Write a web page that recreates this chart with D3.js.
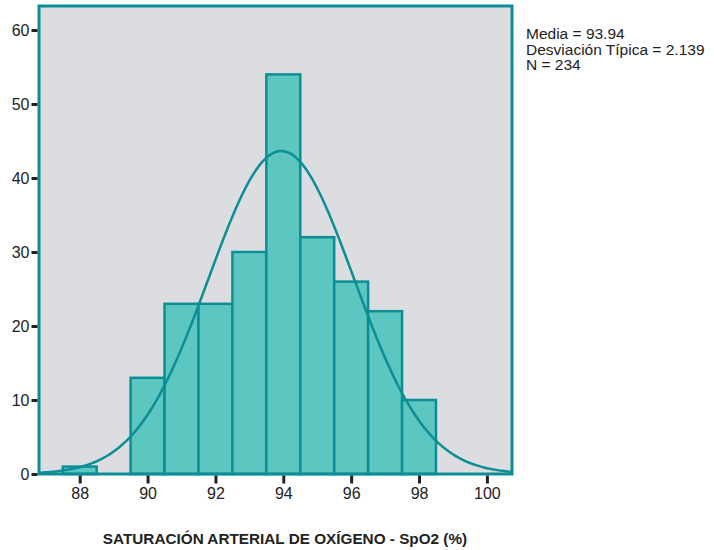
<!DOCTYPE html>
<html>
<head>
<meta charset="utf-8">
<script src="https://cdn.jsdelivr.net/npm/d3@7"></script>
<style>
  body { margin: 0; background: #fff; }
  text { font-family: "Liberation Sans", Arial, sans-serif; }
</style>
</head>
<body>
<script>
// histogram bins (centre of each 1-unit bin) and counts
var binCenters = [88, 90, 91, 92, 93, 94, 95, 96, 97, 98];
var counts = [1, 13, 23, 23, 30, 54, 32, 26, 22, 10];
var xTicks = [88, 90, 92, 94, 96, 98, 100];
var yTicks = [0, 10, 20, 30, 40, 50, 60];
var mean = 93.94, sd = 2.139, n = 234;
var statLines = ["Media = 93.94", "Desviación Típica = 2.139", "N = 234"];

var width = 714, height = 550;
// plot frame edges
var plotL = 39, plotR = 512, plotT = 6, plotB = 474;

var teal = "#0b8f95",
    fill = "#5cc6c1",
    bg = "#dcdde0";

var x = d3.scaleLinear().domain([86.8, 100.74]).range([plotL, plotR]);
var y = d3.scaleLinear().domain([0, 60]).range([plotB, 30]);

var svg = d3.select("body").append("svg")
    .attr("width", width)
    .attr("height", height);

// plot background
svg.append("rect")
    .attr("x", plotL).attr("y", plotT)
    .attr("width", plotR - plotL).attr("height", plotB - plotT)
    .attr("fill", bg);

// bars
svg.append("g").selectAll("rect")
    .data(binCenters)
    .enter().append("rect")
    .attr("x", function(d) { return x(d - 0.5); })
    .attr("y", function(d, i) { return y(counts[i]); })
    .attr("width", function(d) { return x(d + 0.5) - x(d - 0.5); })
    .attr("height", function(d, i) { return y(0) - y(counts[i]); })
    .attr("fill", fill)
    .attr("stroke", teal)
    .attr("stroke-width", 2.5);

// normal curve scaled to counts (bin width 1)
var curveX = d3.range(86.8, 100.74, 0.05);
var line = d3.line()
    .x(function(d) { return x(d); })
    .y(function(d) {
        var z = (d - mean) / sd;
        return y(n / (sd * Math.sqrt(2 * Math.PI)) * Math.exp(-0.5 * z * z));
    });
svg.append("path")
    .datum(curveX)
    .attr("d", line)
    .attr("fill", "none")
    .attr("stroke", teal)
    .attr("stroke-width", 2.5);

// frame
svg.append("rect")
    .attr("x", plotL).attr("y", plotT)
    .attr("width", plotR - plotL).attr("height", plotB - plotT)
    .attr("fill", "none")
    .attr("stroke", teal)
    .attr("stroke-width", 3);

// y axis
var yAxis = svg.append("g")
    .attr("transform", "translate(" + (plotL - 1.5) + ",0)")
    .call(d3.axisLeft(y).tickValues(yTicks).tickSize(6).tickPadding(2));
yAxis.select(".domain").remove();
yAxis.selectAll("line").attr("stroke", "#222").attr("stroke-width", 3);
yAxis.selectAll("text").attr("font-size", 16).attr("fill", "#222").attr("dy", "0.35em");

// x axis
var xAxis = svg.append("g")
    .attr("transform", "translate(0," + (plotB + 1.5) + ")")
    .call(d3.axisBottom(x).tickValues(xTicks).tickSize(8).tickPadding(4));
xAxis.select(".domain").remove();
xAxis.selectAll("line").attr("stroke", "#222").attr("stroke-width", 3);
xAxis.selectAll("text").attr("font-size", 16).attr("fill", "#222");

// axis title
svg.append("text")
    .attr("x", 285).attr("y", 544)
    .attr("text-anchor", "middle")
    .attr("font-size", 15.3)
    .attr("font-weight", "bold")
    .attr("fill", "#222")
    .text("SATURACIÓN ARTERIAL DE OXÍGENO - SpO2 (%)");

// stats box
svg.append("g").selectAll("text")
    .data(statLines)
    .enter().append("text")
    .attr("x", 526)
    .attr("y", function(d, i) { return 39 + i * 15.5; })
    .attr("font-size", 15.5)
    .attr("fill", "#222")
    .text(function(d) { return d; });
</script>
</body>
</html>
